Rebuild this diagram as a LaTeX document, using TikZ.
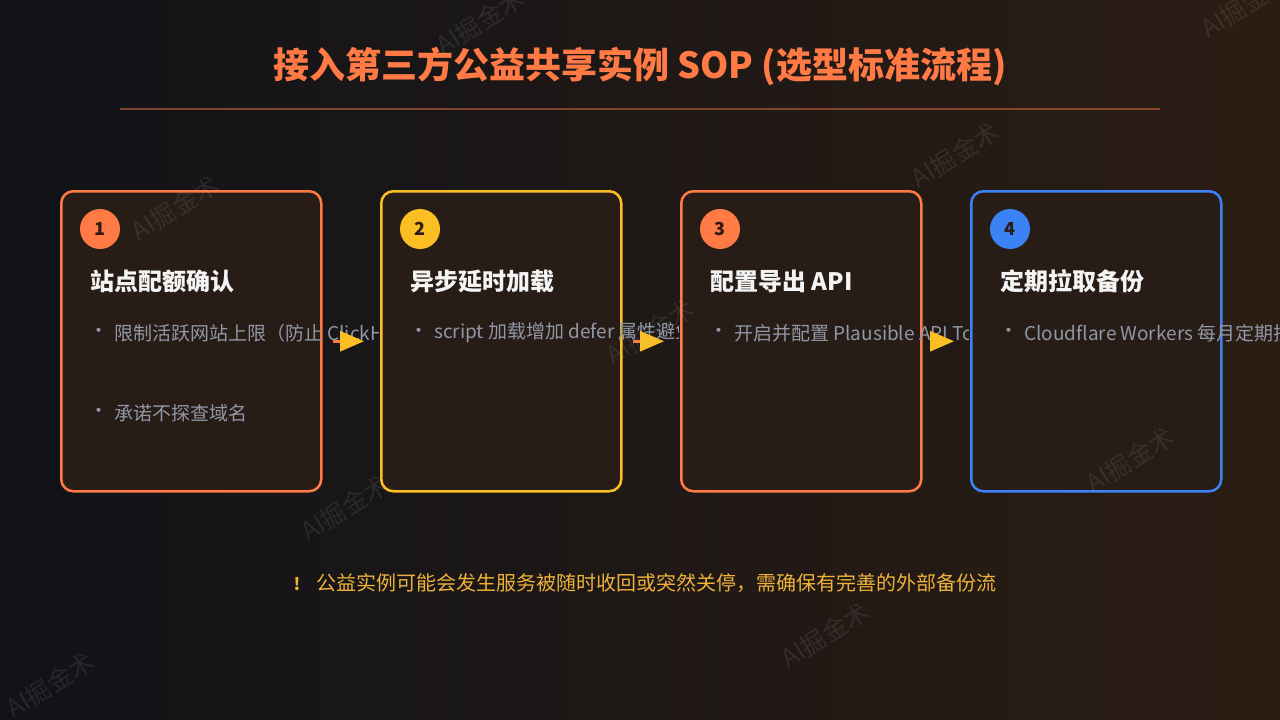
\documentclass[tikz,border=0pt]{standalone}
\usepackage{fontspec}
\setmainfont{Noto Sans CJK SC}
\usetikzlibrary{arrows.meta,positioning,calc}
\definecolor{bgL}{HTML}{111318}
\definecolor{bgR}{HTML}{2B1D14}
\definecolor{orangeC}{HTML}{FF7A45}
\definecolor{yellowC}{HTML}{FBBF24}
\definecolor{blueC}{HTML}{3B82F6}
\definecolor{boxfill}{HTML}{281C16}
\definecolor{bodygray}{HTML}{9097A6}
\definecolor{footC}{HTML}{EEB23A}
\definecolor{numtxt}{HTML}{2E1C12}
\definecolor{headC}{HTML}{F4F4F4}
\definecolor{wmC}{HTML}{C8C8C8}
\tikzset{
  stepbox/.style={draw, line width=2.5pt, rounded corners=12pt, fill=boxfill,
    minimum width=#1, minimum height=300pt, anchor=north west, inner sep=0pt},
  numc/.style={circle, minimum size=40pt, inner sep=0pt, text=numtxt,
    font=\fontsize{18}{20}\selectfont\bfseries},
  head/.style={anchor=west, inner sep=0pt, text=headC,
    font=\fontsize{24}{28}\selectfont\bfseries},
  bul/.style={anchor=west, inner sep=0pt, text=bodygray,
    font=\fontsize{19}{22}\selectfont},
  dotb/.style={anchor=center, inner sep=0pt, text=bodygray,
    font=\fontsize{19}{22}\selectfont},
  flow/.style={line width=3pt, draw=orangeC, shorten <=10pt, shorten >=16pt,
    -{Triangle[color=yellowC, length=24pt, width=20pt]}},
  wm/.style={inner sep=0pt, text=wmC, opacity=0.11, rotate=32,
    font=\fontsize{25}{28}\selectfont},
  titletext/.style={inner sep=0pt, text=orangeC,
    font=\fontsize{36}{40}\selectfont\bfseries},
  foot/.style={anchor=west, inner sep=0pt, text=footC,
    font=\fontsize{20}{24}\selectfont}
}
\begin{document}
\begin{tikzpicture}[x=1pt,y=-1pt]
\useasboundingbox (0,0) rectangle (1280,720);
\shade[left color=bgL, right color=bgR] (0,0) rectangle (1280,720);

% title
\node[titletext] (title) at (640,66) {接入第三方公益共享实例 SOP (选型标准流程)};
\coordinate (sepL) at (120,109);
\coordinate (sepR) at (1160,109);
\draw[orangeC, opacity=0.45, line width=1.5pt] (sepL) -- (sepR);

% boxes
\node[stepbox=260pt, draw=orangeC] (b1) at (60,190) {};
\node[stepbox=240pt, draw=yellowC] (b2) at (380,190) {};
\node[stepbox=240pt, draw=orangeC] (b3) at (680,190) {};
\node[stepbox=250pt, draw=blueC]   (b4) at (970,190) {};

% box 1
\node[numc, fill=orangeC] (n1) at (100,229) {1};
\node[head] (h1) at (90,281) {站点配额确认};
\begin{scope}
  \clip (60,190) rectangle (378.5,490);
  \node[dotb] (d1a) at (99,333) {・};
  \node[bul] (t1a) at (114,333) {限制活跃网站上限（防止 ClickHouse};
  \node[dotb] (d1b) at (99,413) {・};
  \node[bul] (t1b) at (114,413) {承诺不探查域名};
\end{scope}

% box 2
\node[numc, fill=yellowC] (n2) at (420,229) {2};
\node[head] (h2) at (410,281) {异步延时加载};
\begin{scope}
  \clip (380,190) rectangle (678.5,490);
  \node[dotb] (d2a) at (419,333) {・};
  \node[bul] (t2a) at (434,333) {script 加载增加 defer 属性避免};
\end{scope}

% box 3
\node[numc, fill=orangeC] (n3) at (720,229) {3};
\node[head] (h3) at (710,281) {配置导出 API};
\begin{scope}
  \clip (680,190) rectangle (968.5,490);
  \node[dotb] (d3a) at (719,333) {・};
  \node[bul] (t3a) at (734,333) {开启并配置 Plausible API Token};
\end{scope}

% box 4
\node[numc, fill=blueC] (n4) at (1010,229) {4};
\node[head] (h4) at (1000,281) {定期拉取备份};
\begin{scope}
  \clip (970,190) rectangle (1280,490);
  \node[dotb] (d4a) at (1009,333) {・};
  \node[bul] (t4a) at (1024,333) {Cloudflare Workers 每月定期拉取};
\end{scope}

% connectors
\draw[flow] (b1.east) -- (b2.west);
\draw[flow] (b2.east) -- (b3.west);
\draw[flow] (b3.east) -- (b4.west);

% footer
\node[inner sep=0pt, text=footC, font=\fontsize{17}{20}\selectfont\bfseries] (warn) at (297,584) {!};
\node[foot] (ft) at (316,583) {公益实例可能会发生服务被随时收回或突然关停，需确保有完善的外部备份流};

% watermarks (on top)
\foreach \wx/\wy [count=\i] in {480/22, 175/208, 955/155, 650/332, 345/508, 1130/460, 825/635, 50/685, 1245/5}
  \node[wm] (wm\i) at (\wx,\wy) {AI掘金术};
\end{tikzpicture}
\end{document}
